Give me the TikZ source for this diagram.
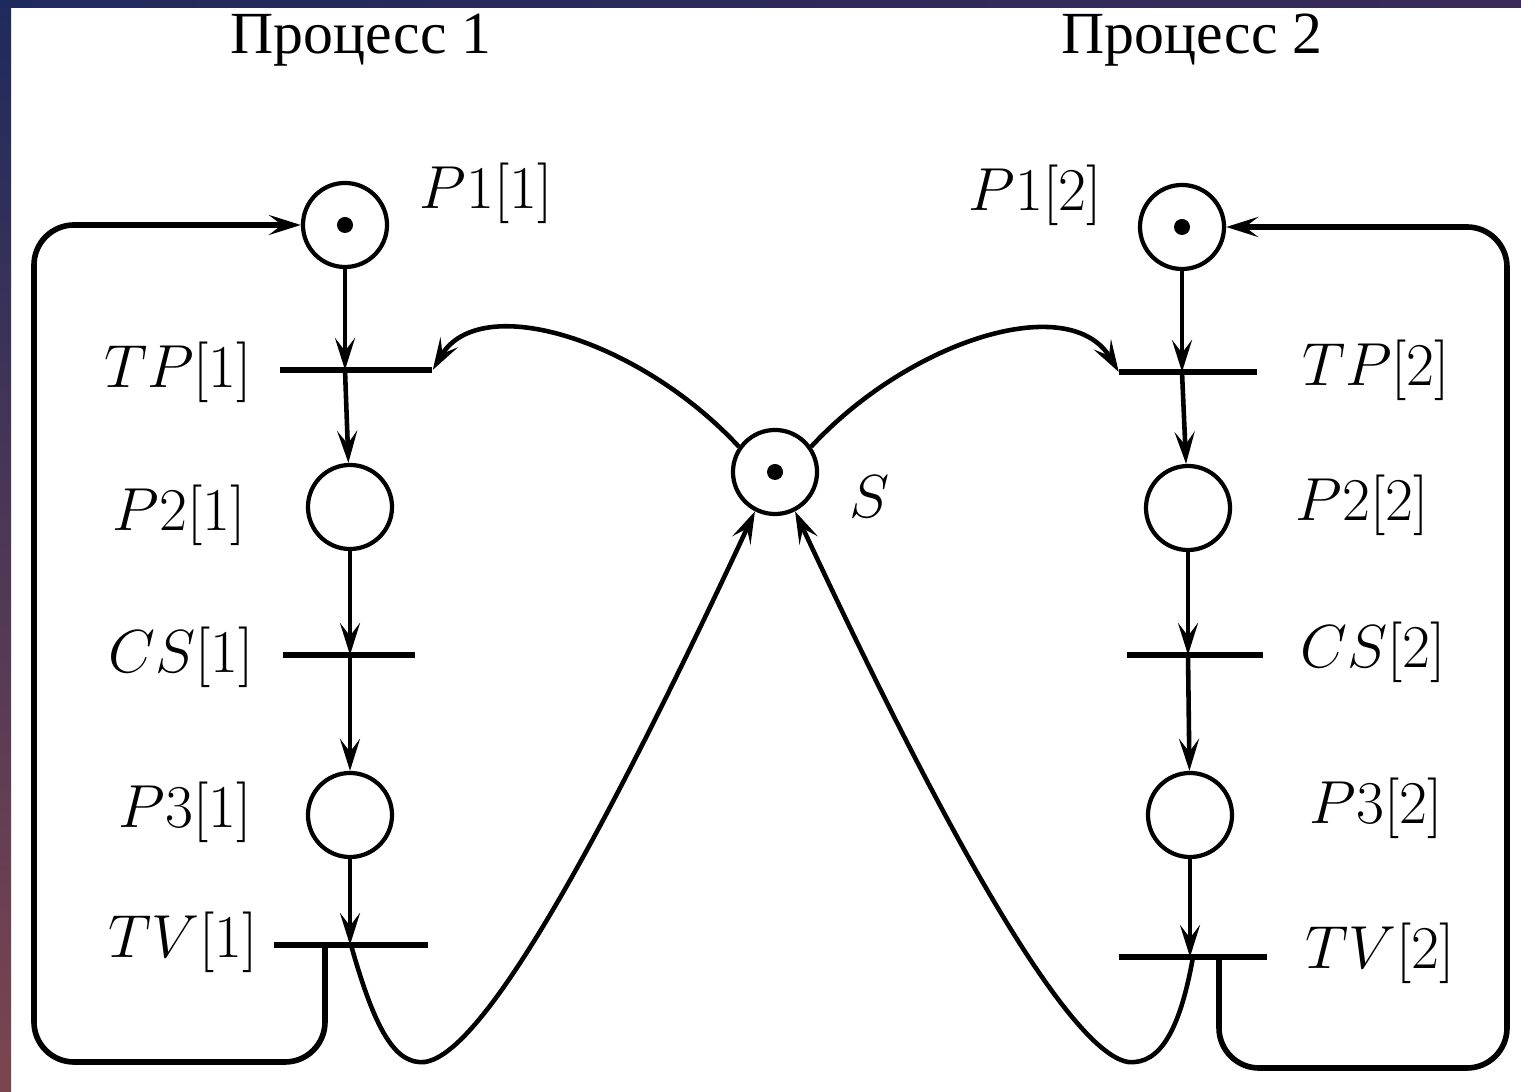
\documentclass[tikz,border=0pt]{standalone}
\usepackage{fontspec}
\newfontfamily\cyrfont{Liberation Serif}
\usetikzlibrary{arrows.meta}
\definecolor{edgeA}{HTML}{1F2A5C}
\definecolor{edgeB}{HTML}{7B4550}
\definecolor{edgeC}{HTML}{2E5A74}
\definecolor{edgeD}{HTML}{3A2A5A}

\begin{document}
\begin{tikzpicture}[x=0.01cm,y=-0.01cm,
    pl/.style={circle,draw,line width=1.2pt,minimum size=0.84cm,inner sep=0pt},
    tr/.style={fill,inner sep=0pt,minimum height=0.065cm,minimum width=#1},
    lbl/.style={font=\fontsize{17.28}{20}\selectfont},
    ttl/.style={font=\cyrfont\fontsize{17}{20}\selectfont},
    flow/.style={line width=1.3pt,-{Stealth[length=0.32cm,width=0.2cm,inset=0.13cm]}},
    backflow/.style={flow,line width=1.6pt,rounded corners=0.4cm}]
  \useasboundingbox (0,0) rectangle (1521,1092);
  \fill[white] (0,0) rectangle (1521,1092);
  \shade[top color=edgeA,bottom color=edgeB] (0,0) rectangle (11,1092);
  \shade[left color=edgeA,middle color=edgeC,right color=edgeD] (0,0) rectangle (1521,8);

  % titles
  \node[ttl] (proc1) at (361,40) {Процесс 1};
  \node[ttl] (proc2) at (1192,40) {Процесс 2};

  % process 1
  \node[pl] (p11) at (345,225) {};
  \node[tr=1.52cm] (tp1) at (356,370) {};
  \node[pl] (p21) at (350,507) {};
  \node[tr=1.32cm] (cs1) at (349,655) {};
  \node[pl] (p31) at (350,815) {};
  \node[tr=1.53cm] (tv1) at (351,945) {};
  \fill (p11) circle (0.08cm);

  % process 2
  \node[pl] (p12) at (1182,227) {};
  \node[tr=1.37cm] (tp2) at (1188,372) {};
  \node[pl] (p22) at (1188,508) {};
  \node[tr=1.36cm] (cs2) at (1195,655) {};
  \node[pl] (p32) at (1190,815) {};
  \node[tr=1.47cm] (tv2) at (1193,957) {};
  \fill (p12) circle (0.08cm);

  % semaphore
  \node[pl] (s) at (775,472) {};
  \fill (s) circle (0.08cm);

  % labels
  \node[lbl] (lp11) at (486,193) {$P1[1]$};
  \node[lbl] (ltp1) at (178,372) {$TP[1]$};
  \node[lbl] (lp21) at (179,515) {$P2[1]$};
  \node[lbl] (lcs1) at (181,657) {$CS[1]$};
  \node[lbl] (lp31) at (185,812) {$P3[1]$};
  \node[lbl] (ltv1) at (183,942) {$TV[1]$};
  \node[lbl] (ls) at (870,497) {$S$};
  \node[lbl] (lp12) at (1035,195) {$P1[2]$};
  \node[lbl] (ltp2) at (1376,370) {$TP[2]$};
  \node[lbl] (lp22) at (1362,505) {$P2[2]$};
  \node[lbl] (lcs2) at (1373,652) {$CS[2]$};
  \node[lbl] (lp32) at (1376,808) {$P3[2]$};
  \node[lbl] (ltv2) at (1380,953) {$TV[2]$};

  % chains
  \draw[flow] (p11) -- (p11 |- tp1.center);
  \draw[flow] (p11 |- tp1.center) -- (p21);
  \draw[flow] (p21) -- (p21 |- cs1.center);
  \draw[flow] (p21 |- cs1.center) -- (p31);
  \draw[flow] (p31) -- (p31 |- tv1.center);
  \draw[flow] (p12) -- (p12 |- tp2.center);
  \draw[flow] (p12 |- tp2.center) -- (p22);
  \draw[flow] (p22) -- (p22 |- cs2.center);
  \draw[flow] (p22 |- cs2.center) -- (p32);
  \draw[flow] (p32) -- (p32 |- tv2.center);

  % return loops
  \draw[backflow] ([xshift=-0.26cm]tv1.center) |- (34,1062) |- (p11.west);
  \draw[backflow] ([xshift=0.26cm]tv2.center) |- (1507,1068) |- (p12.east);

  % semaphore arcs
  \draw[flow] (s.145) .. controls (640,340) and (480,290) .. (tp1.east);
  \draw[flow] (s.35) .. controls (910,340) and (1070,290) .. (tp2.west);
  \draw[flow] (tv1.center) .. controls (375,1030) and (395,1065) .. (425,1062)
    .. controls (470,1055) and (560,930) .. (s.243);
  \draw[flow] (tv2.center) .. controls (1180,1030) and (1160,1065) .. (1128,1062)
    .. controls (1085,1055) and (990,930) .. (s.297);
\end{tikzpicture}
\end{document}
